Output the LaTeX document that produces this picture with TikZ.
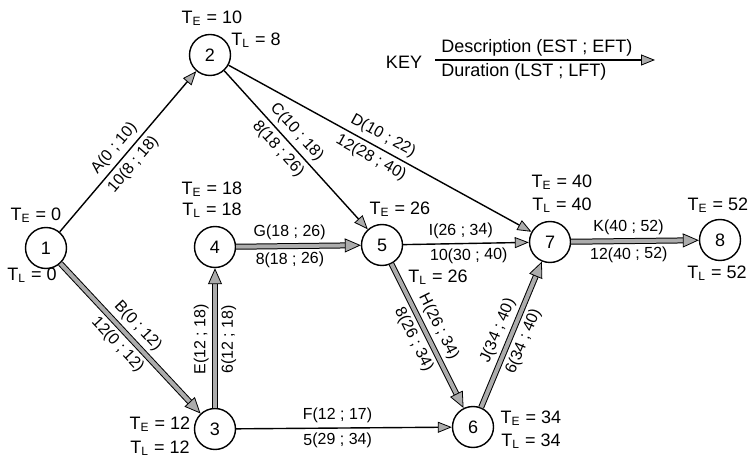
\documentclass[tikz,border=0pt]{standalone}
\usepackage{fontspec}
\setmainfont{Liberation Sans}
\usetikzlibrary{arrows.meta}
\begin{document}
\begin{tikzpicture}[x=0.5pt, y=-0.5pt,
  event/.style={circle, draw, line width=0.7pt, minimum size=20.5pt, inner sep=0pt, font=\fontsize{9}{10}\selectfont},
  tlab/.style={anchor=base, inner sep=0pt, font=\fontsize{9}{10}\selectfont},
  lab/.style={sloped, inner sep=1pt, font=\fontsize{8}{9}\selectfont},
  up/.style={above=1.2pt},
  dn/.style={below=1.2pt},
  act/.style={line width=0.7pt, -{Triangle[length=7pt, width=5.5pt, color=black, fill=gray!65, line width=0.4pt]}},
  crit/.style={draw=gray!65, line width=2pt, -{Triangle[length=8pt, width=7pt, color=black, fill=gray!65, line width=0.4pt]}, preaction={draw=black, line width=3pt, -, shorten >=5pt}}]
  \useasboundingbox (0,0) rectangle (754,464);
  % events
  \foreach \n/\x/\y in {1/46/248, 2/210/55, 3/215/429, 4/215/247, 5/382/245, 6/473/427, 7/550/242, 8/720/240}
    {\node[event] (n\n) at (\x,\y) {\n};}
  % earliest and latest event times
  \foreach \n/\xe/\ye/\te/\xl/\yl/\tl in {1/36/220.5/0/32/280.5/0, 2/212/23.5/10/256/45.5/8, 3/160/429.5/12/160/453.5/12, 4/212/194.5/18/212/215.5/18, 5/400/214.5/26/438/282.5/26, 6/531/423.5/34/531/446.5/34, 7/562/187.5/40/562/210.5/40, 8/718/210.5/52/717/278.5/52}
    {\node[tlab] (te\n) at (\xe,\ye) {T\textsubscript{E} = \te};
     \node[tlab] (tl\n) at (\xl,\yl) {T\textsubscript{L} = \tl};}
  % activities
  \draw[act] (n1) -- node[lab, up, pos=0.47] (la1) {A(0 ; 10)} node[lab, dn, pos=0.47] (la2) {10(8 ; 18)} (n2);
  \draw[crit] (n1) -- node[lab, up, pos=0.48] (lb1) {B(0 ; 12)} node[lab, dn, pos=0.48] (lb2) {12(0 ; 12)} (n3);
  \draw[act] (n2) -- node[lab, up, pos=0.44] (lc1) {C(10 ; 18)} node[lab, dn, pos=0.44] (lc2) {8(18 ; 26)} (n5);
  \draw[act] (n2) -- node[lab, up, pos=0.49] (ld1) {D(10 ; 22)} node[lab, dn, pos=0.49] (ld2) {12(28 ; 40)} (n7);
  \draw[crit] (n3) -- node[lab, up, pos=0.49, allow upside down] (le1) {E(12 ; 18)} node[lab, dn, pos=0.49, allow upside down] (le2) {6(12 ; 18)} (n4);
  \draw[act] (n3) -- node[lab, up, pos=0.47] (lf1) {F(12 ; 17)} node[lab, dn, pos=0.47] (lf2) {5(29 ; 34)} (n6);
  \draw[crit] (n4) -- node[lab, up, pos=0.43] (lg1) {G(18 ; 26)} node[lab, dn, pos=0.43] (lg2) {8(18 ; 26)} (n5);
  \draw[crit] (n5) -- node[lab, up, pos=0.48] (lh1) {H(26 ; 34)} node[lab, dn, pos=0.48] (lh2) {8(26 ; 34)} (n6);
  \draw[act] (n5) -- node[lab, up, pos=0.46] (li1) {I(26 ; 34)} node[lab, dn, pos=0.52] (li2) {10(30 ; 40)} (n7);
  \draw[crit] (n6) -- node[lab, up, pos=0.49] (lj1) {J(34 ; 40)} node[lab, dn, pos=0.49] (lj2) {6(34 ; 40)} (n7);
  \draw[crit] (n7) -- node[lab, up, pos=0.45] (lk1) {K(40 ; 52)} node[lab, dn, pos=0.45] (lk2) {12(40 ; 52)} (n8);
  % key
  \node[inner sep=0pt, font=\fontsize{9}{10}\selectfont] (key) at (404,62) {KEY};
  \coordinate (k0) at (435,60);
  \coordinate (k1) at (655,60);
  \draw[act] (k0) -- (k1);
  \node[anchor=south west, inner sep=1.5pt, font=\fontsize{9}{10}\selectfont] (kd) at (438,60) {Description (EST ; EFT)};
  \node[anchor=north west, inner sep=1.5pt, font=\fontsize{9}{10}\selectfont] (kl) at (438,60) {Duration (LST ; LFT)};
\end{tikzpicture}
\end{document}
